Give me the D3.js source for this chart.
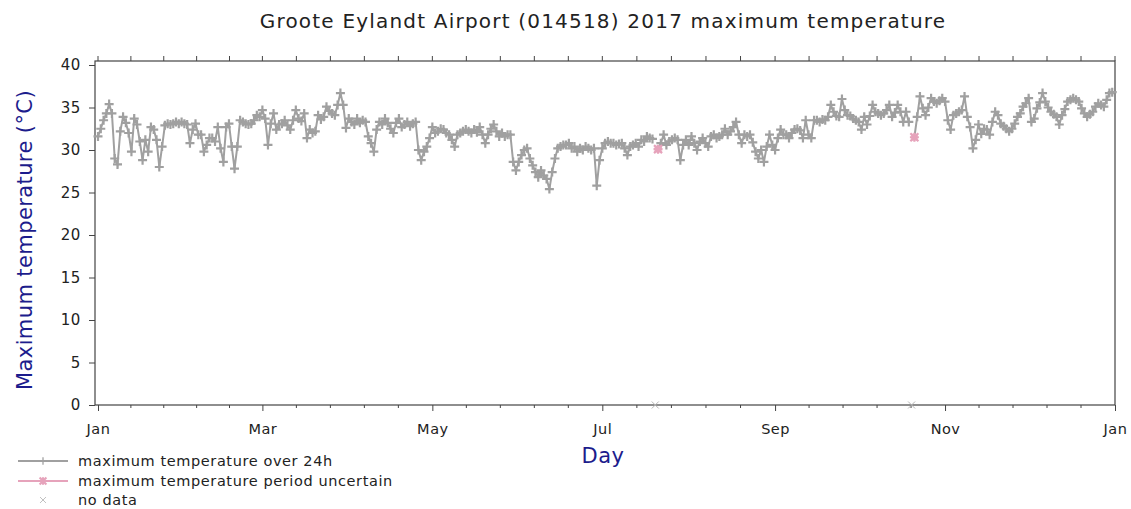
<!DOCTYPE html>
<html>
<head>
<meta charset="utf-8">
<script src="https://cdn.jsdelivr.net/npm/d3@7"></script>
<style>
  body { margin: 0; background: #fff; }
  svg { font-family: "DejaVu Sans", Verdana, sans-serif; }
</style>
</head>
<body>
<svg width="1131" height="509"></svg>
<script>
// daily maximum temperature, one array per month (null = no data)
const jan = [31.6, 32.5, 33.5, 34.3, 35.4, 34.3, 29.0, 28.3, 32.2, 33.9, 33.2, 32.0, 29.8, 33.7, 33.0, 31.0, 28.8, 31.2, 29.8, 32.7, 32.4, 31.2, 28.0, 30.4, 32.9, 33.1, 33.0, 33.1, 33.3, 33.1, 33.3];
const feb = [33.1, 33.0, 30.8, 32.4, 33.1, 31.8, 31.8, 29.8, 30.6, 31.4, 31.4, 31.0, 32.7, 30.2, 28.6, 32.7, 33.1, 30.4, 27.8, 30.4, 33.5, 33.3, 33.1, 33.0, 33.1, 33.5, 34.1, 33.9];
const mar = [34.7, 33.7, 30.6, 33.1, 34.3, 32.4, 33.0, 33.1, 33.5, 32.9, 32.4, 33.5, 34.7, 33.7, 33.4, 34.3, 31.4, 32.4, 32.0, 32.2, 34.1, 33.6, 33.9, 35.1, 34.6, 34.3, 34.1, 35.3, 36.7, 35.3, 32.6];
const apr = [33.7, 33.3, 33.0, 33.7, 33.2, 33.5, 33.3, 31.6, 30.8, 29.8, 32.4, 33.3, 33.0, 33.7, 33.2, 32.5, 32.0, 33.2, 33.7, 32.7, 33.0, 33.3, 32.8, 33.1, 33.3, 30.0, 28.8, 29.8, 30.4, 31.4];
const may = [32.7, 32.0, 32.2, 32.5, 32.4, 32.0, 31.8, 31.2, 30.4, 31.8, 32.0, 32.2, 32.4, 32.2, 32.0, 32.4, 32.1, 32.7, 31.8, 30.8, 31.8, 32.5, 33.0, 32.2, 31.6, 32.0, 31.6, 31.8, 31.8, 28.6, 27.6];
const jun = [28.6, 29.4, 30.0, 30.2, 29.0, 28.2, 27.4, 26.8, 27.6, 27.0, 26.6, 25.4, 27.4, 29.0, 30.2, 30.4, 30.6, 30.6, 30.8, 30.2, 30.4, 29.8, 30.2, 30.0, 30.4, 30.2, 30.0, 30.2, 25.8, 28.8];
const jul = [30.2, 30.8, 31.0, 30.8, 30.8, 30.6, 30.7, 30.8, 30.2, 29.4, 30.4, 30.6, 30.8, 30.4, 31.2, 31.0, 31.6, 31.4, 31.3, null, 30.1, 30.8, 31.8, 30.6, 31.0, 31.2, 31.4, 31.2, 28.8, 30.6, 31.2];
const aug = [30.6, 31.6, 30.8, 30.0, 31.0, 31.4, 30.8, 30.4, 31.6, 31.8, 31.4, 31.6, 31.8, 32.5, 31.8, 32.2, 32.7, 33.3, 31.8, 30.8, 31.8, 31.6, 31.8, 30.9, 29.8, 29.0, 30.0, 28.6, 30.4, 31.8, 30.6];
const sep = [30.0, 31.4, 32.4, 31.8, 31.8, 31.4, 32.0, 32.4, 32.5, 32.3, 31.4, 33.5, 31.8, 31.4, 33.5, 33.5, 33.3, 33.6, 33.5, 33.9, 35.3, 34.5, 34.0, 33.9, 36.0, 34.7, 34.1, 34.0, 33.7, 33.5];
const oct = [33.3, 32.4, 33.9, 33.0, 34.0, 35.3, 34.5, 34.3, 34.1, 34.3, 34.7, 35.3, 33.9, 34.4, 35.3, 34.5, 33.3, 34.5, 33.3, null, 31.5, 33.9, 36.3, 34.9, 34.1, 35.0, 36.1, 35.7, 35.5, 35.8, 36.1];
const nov = [35.7, 33.5, 32.4, 34.1, 34.3, 34.5, 34.7, 36.3, 33.9, 32.7, 30.2, 31.2, 33.0, 31.9, 32.5, 32.4, 31.8, 33.3, 34.5, 34.1, 33.1, 32.8, 32.5, 32.2, 32.5, 33.1, 33.9, 34.3, 35.1, 35.5];
const dec = [36.1, 33.3, 33.7, 34.9, 35.6, 36.7, 35.7, 35.0, 34.5, 34.2, 33.9, 33.0, 34.1, 34.8, 35.7, 35.9, 36.1, 35.9, 35.7, 34.9, 34.3, 33.9, 34.2, 34.5, 35.1, 35.5, 35.3, 35.1, 35.9, 36.7, 36.8];

// days of year (0 = 1 Jan) with missing or period-uncertain readings
const noDataDays = [200, 292];
const uncertainDays = [201, 293];
const uncertainValues = [30.1, 31.5];

const monthLabels = ["Jan", "Mar", "May", "Jul", "Sep", "Nov", "Jan"];
const monthLabelDays = [0, 59, 120, 181, 243, 304, 365];
const yTicks = [0, 5, 10, 15, 20, 25, 30, 35, 40];

const daily = [jan, feb, mar, apr, may, jun, jul, aug, sep, oct, nov, dec]
  .flat()
  .map((v, i) => ({ day: i, value: v }));

const uncertain = uncertainDays.map((d, i) => ({ day: d, value: uncertainValues[i] }));

const plotLeft = 95, plotRight = 1115, plotTop = 61, plotBottom = 405;
const grey = "#a0a0a0";
const pink = "#e6a3bb";
const ink = "#222";
const navy = "#1c1c8c";

const svg = d3.select("svg");

const x = d3.scaleLinear().domain([0, 365]).range([98, plotRight]);
const y = d3.scaleLinear().domain([0, 40]).range([plotBottom, 65]);

// minor ticks: each two-month gap split into five
const minorDays = [];
for (let i = 0; i < monthLabelDays.length - 1; i++) {
  const a = monthLabelDays[i], b = monthLabelDays[i + 1];
  for (let k = 1; k < 5; k++) minorDays.push(a + ((b - a) * k) / 5);
}

// frame
svg.append("rect")
  .attr("x", plotLeft).attr("y", plotTop)
  .attr("width", plotRight - plotLeft).attr("height", plotBottom - plotTop)
  .attr("fill", "none").attr("stroke", "#444").attr("stroke-width", 1.2);

// y axis
const yAxis = svg.append("g")
  .attr("transform", `translate(${plotLeft},0)`)
  .call(d3.axisLeft(y).tickValues(yTicks).tickSize(6).tickPadding(8));
yAxis.select(".domain").remove();
yAxis.selectAll("line").attr("stroke", "#444");
yAxis.selectAll("text")
  .attr("fill", ink)
  .style("font-size", "15px")
  .style("letter-spacing", "0.6px")
  .style("font-family", "DejaVu Sans, Verdana, sans-serif");

// x axis, major + minor
const xAxis = svg.append("g")
  .attr("transform", `translate(0,${plotBottom})`)
  .call(d3.axisBottom(x).tickValues(monthLabelDays).tickFormat((d, i) => monthLabels[i]).tickSize(6).tickPadding(13));
xAxis.select(".domain").remove();
xAxis.selectAll("line").attr("stroke", "#444");
xAxis.selectAll("text")
  .attr("fill", ink)
  .style("font-size", "14.5px")
  .style("letter-spacing", "0.5px")
  .style("font-family", "DejaVu Sans, Verdana, sans-serif");

svg.append("g")
  .selectAll("line")
  .data(minorDays)
  .enter()
  .append("line")
  .attr("x1", d => x(d)).attr("x2", d => x(d))
  .attr("y1", plotBottom).attr("y2", plotBottom + 3)
  .attr("stroke", "#444");

// top ticks
svg.append("g")
  .selectAll("line")
  .data(monthLabelDays.concat(minorDays))
  .enter()
  .append("line")
  .attr("x1", d => x(d)).attr("x2", d => x(d))
  .attr("y1", plotTop).attr("y2", plotTop - 5)
  .attr("stroke", "#444");

// series line
const line = d3.line()
  .defined(d => d.value !== null)
  .x(d => x(d.day))
  .y(d => y(d.value));

svg.append("path")
  .datum(daily)
  .attr("d", line)
  .attr("fill", "none")
  .attr("stroke", grey)
  .attr("stroke-width", 2);

const plus = "M-4.5,0H4.5M0,-4.5V4.5";
const star = "M-4.5,0H4.5M0,-4.5V4.5M-4,-4L4,4M-4,4L4,-4";
const cross = "M-3.5,-3.5L3.5,3.5M-3.5,3.5L3.5,-3.5";

svg.append("g")
  .selectAll("path")
  .data(daily.filter(d => d.value !== null && !uncertainDays.includes(d.day)))
  .enter()
  .append("path")
  .attr("d", plus)
  .attr("transform", d => `translate(${x(d.day)},${y(d.value)})`)
  .attr("stroke", grey)
  .attr("stroke-width", 2.2)
  .attr("fill", "none");

const pinkMarks = svg.append("g")
  .selectAll("g")
  .data(uncertain)
  .enter()
  .append("g")
  .attr("transform", d => `translate(${x(d.day)},${y(d.value)})`);
pinkMarks.append("rect")
  .attr("x", -3.5).attr("y", -3.5)
  .attr("width", 7).attr("height", 7)
  .attr("fill", "#efbccd");
pinkMarks.append("path")
  .attr("d", star)
  .attr("stroke", pink)
  .attr("stroke-width", 2.2);

svg.append("g")
  .selectAll("path")
  .data(noDataDays)
  .enter()
  .append("path")
  .attr("d", cross)
  .attr("transform", d => `translate(${x(d)},${y(0)})`)
  .attr("stroke", "#b5b5b5")
  .attr("stroke-width", 1);

// titles
svg.append("text")
  .attr("x", 603).attr("y", 28)
  .attr("text-anchor", "middle")
  .attr("fill", ink)
  .style("font-size", "20px")
  .style("letter-spacing", "1.2px")
  .text("Groote Eylandt Airport (014518) 2017 maximum temperature");

svg.append("text")
  .attr("x", 603).attr("y", 463)
  .attr("text-anchor", "middle")
  .attr("fill", navy)
  .style("font-size", "21px")
  .style("letter-spacing", "0.5px")
  .text("Day");

svg.append("text")
  .attr("transform", "translate(32,240) rotate(-90)")
  .attr("text-anchor", "middle")
  .attr("fill", navy)
  .style("font-size", "21px")
  .style("letter-spacing", "0.4px")
  .text("Maximum temperature (°C)");

// legend
const legend = svg.append("g")
  .style("font-size", "14.5px")
  .style("letter-spacing", "0.6px")
  .attr("fill", ink);

const rows = [
  { y: 461, label: "maximum temperature over 24h", color: grey, mark: plus, line: true, sw: 1.5 },
  { y: 481, label: "maximum temperature period uncertain", color: pink, mark: star, line: true, sw: 2.5 },
  { y: 500, label: "no data", color: "#b5b5b5", mark: cross, line: false, sw: 1 }
];

rows.forEach(r => {
  if (r.line) {
    legend.append("line")
      .attr("x1", 18).attr("x2", 68)
      .attr("y1", r.y).attr("y2", r.y)
      .attr("stroke", r.color).attr("stroke-width", 2);
  }
  legend.append("path")
    .attr("d", r.mark)
    .attr("transform", `translate(43,${r.y}) scale(0.85)`)
    .attr("stroke", r.color)
    .attr("stroke-width", r.sw);
  legend.append("text")
    .attr("x", 78).attr("y", r.y + 5)
    .text(r.label);
});
</script>
</body>
</html>
